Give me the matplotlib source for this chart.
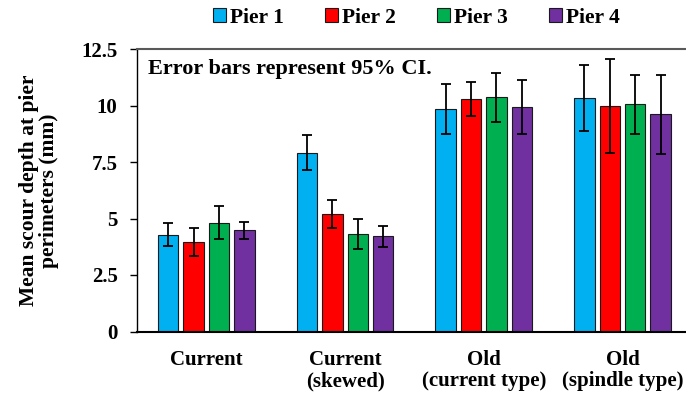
import numpy as np
import matplotlib
matplotlib.use('Agg')
import matplotlib.pyplot as plt
from matplotlib.patches import Patch

plt.rcParams['font.family'] = 'Liberation Serif'
plt.rcParams['font.weight'] = 'bold'

categories = ['Current', 'Current\n(skewed)', 'Old\n(current type)', 'Old\n(spindle type)']
piers = ['Pier 1', 'Pier 2', 'Pier 3', 'Pier 4']
colors = ['#00B0F0', '#FF0000', '#00B050', '#7030A0']

# mean scour depth (mm), one list per pier, one value per category
pier1 = [4.28, 7.91, 9.85, 10.32]
pier2 = [3.96, 5.18, 10.30, 9.99]
pier3 = [4.81, 4.31, 10.36, 10.05]
pier4 = [4.48, 4.22, 9.93, 9.61]
# 95% CI half widths
ci1 = [0.50, 0.77, 1.12, 1.45]
ci2 = [0.60, 0.62, 0.76, 2.07]
ci3 = [0.73, 0.65, 1.07, 1.30]
ci4 = [0.38, 0.47, 1.19, 1.75]

means = [pier1, pier2, pier3, pier4]
cis = [ci1, ci2, ci3, ci4]

fig = plt.figure(figsize=(6.86, 3.97), dpi=100)
ax = fig.add_axes([137 / 686, 65.5 / 397, 549 / 686, 282.5 / 397])

x = np.arange(len(categories))
pitch = 0.183
width = 0.147
for i in range(4):
    ax.bar(x + (i - 1.5) * pitch, means[i], width, color=colors[i],
           edgecolor='#1a1a1a', linewidth=0.8, zorder=2)
    ax.errorbar(x + (i - 1.5) * pitch, means[i], yerr=cis[i], fmt='none',
                ecolor='black', elinewidth=1.3, capsize=3.5, capthick=1.3, zorder=3)

ax.set_xlim(-0.5, 3.458)
ax.set_ylim(0, 12.5)
ax.set_yticks([0, 2.5, 5, 7.5, 10, 12.5])
ax.set_yticklabels(['0', '2.5', '5', '7.5', '10', '12.5'], fontsize=15, fontweight='bold')
ax.set_xticks(x)
ax.set_xticklabels(categories, fontsize=15, fontweight='bold', linespacing=1.05)
ax.tick_params(axis='x', length=0, pad=13.5)
ax.tick_params(axis='y', direction='out', length=5, width=1, pad=9)

ax.spines['right'].set_visible(False)
ax.spines['top'].set_color('#595959')
ax.spines['top'].set_linewidth(1.5)
ax.spines['left'].set_linewidth(1)
ax.spines['bottom'].set_linewidth(1.5)

ax.set_ylabel('Mean scour depth at pier\nperimeters (mm)', fontsize=15.5,
              fontweight='bold', linespacing=1.0, labelpad=16)

ax.text(0.02, 0.93, 'Error bars represent 95% CI.', transform=ax.transAxes,
        fontsize=16, fontweight='bold', va='center', ha='left')

handles = [Patch(facecolor=c, edgecolor='#1a1a1a', linewidth=0.8) for c in colors]
fig.legend(handles, piers, loc='center', bbox_to_anchor=(0.607, 0.955), ncol=4,
           frameon=False, prop={'size': 15.5, 'weight': 'bold'},
           handlelength=0.6, handleheight=0.6, handletextpad=0.2, columnspacing=1.9)

fig.savefig('out.png', dpi=100)
